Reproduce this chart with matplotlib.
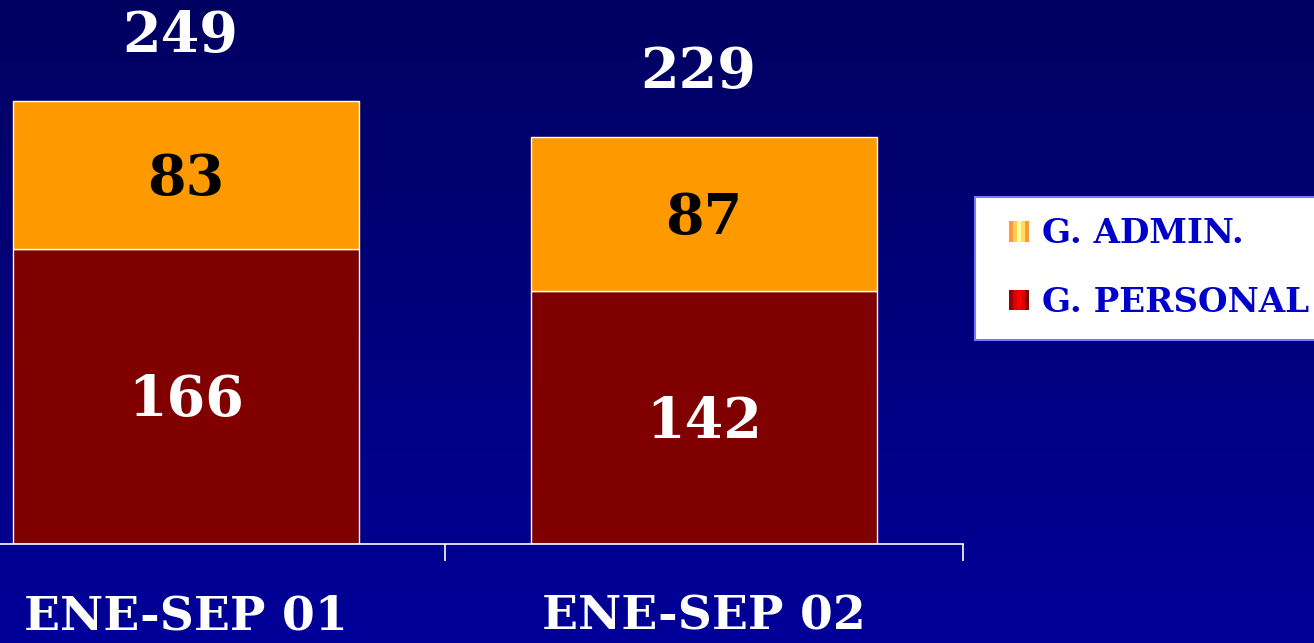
import matplotlib
matplotlib.use("Agg")
import matplotlib.pyplot as plt
import numpy as np
from matplotlib.patches import Patch, Rectangle
from matplotlib.legend_handler import HandlerBase

periods = ["ENE-SEP 01", "ENE-SEP 02"]
personal = [166, 142]
admin = [83, 87]
totals = [249, 229]


class StripeHandler(HandlerBase):
    # legend key drawn as vertical stripes, like the shaded swatches
    def __init__(self, colors):
        super().__init__()
        self.colors = colors

    def create_artists(self, legend, orig_handle, xdescent, ydescent, width, height, fontsize, trans):
        n = len(self.colors)
        sw = 0.6 * fontsize
        x0 = -xdescent + width - sw
        y0 = -ydescent + (height - sw) / 2
        out = []
        for k, c in enumerate(self.colors):
            r = Rectangle((x0 + k * sw / n, y0), sw / n, sw,
                          facecolor=c, edgecolor="none", transform=trans)
            out.append(r)
        return out


W, H = 1314, 643
fig = plt.figure(figsize=(W / 100, H / 100), dpi=100)

# background gradient, darker at the top
bg = fig.add_axes([0, 0, 1, 1], zorder=0)
grad = np.linspace(0, 1, 256).reshape(-1, 1)
top = np.array([0, 0, 0x60]) / 255
bot = np.array([0, 0, 0x99]) / 255
img = top + (bot - top) * grad[..., None]
bg.imshow(img, aspect="auto", extent=[0, 1, 0, 1], origin="upper")
bg.axis("off")

serif = "DejaVu Serif"
ax = fig.add_axes([-73 / W, 99 / H, 1036 / W, 544 / H], zorder=1)
ax.patch.set_alpha(0)
x = np.arange(len(periods))
w = 0.668
ax.bar(x, personal, w, color="#800000", edgecolor="white", linewidth=1)
ax.bar(x, admin, w, bottom=personal, color="#ff9900", edgecolor="white", linewidth=1)
ax.set_xlim(-0.5, 1.5)
ax.set_ylim(0, 544 / 1.779)

for i in x:
    ax.text(i, personal[i] / 2 - 2.5, str(personal[i]), ha="center", va="center",
            color="white", fontsize=40, fontweight="bold", family=serif)
    ax.text(i, personal[i] + admin[i] / 2 - 2.5, str(admin[i]), ha="center", va="center",
            color="black", fontsize=40, fontweight="bold", family=serif)
    ax.text(i - 0.012, totals[i] + 36, str(totals[i]), ha="center", va="center",
            color="white", fontsize=40, fontweight="bold", family=serif)

for s in ["top", "right", "left"]:
    ax.spines[s].set_visible(False)
ax.spines["bottom"].set_color("white")
ax.spines["bottom"].set_linewidth(1.2)
ax.set_yticks([])
ax.set_xticks([0.5, 1.5])
ax.set_xticklabels([])
ax.tick_params(axis="x", colors="white", length=12, width=1.2, direction="out")
for i, p in enumerate(periods):
    ax.text(i, -41, p, ha="center", va="center", color="white",
            fontsize=34, fontweight="bold", family=serif)

h_admin = Patch(label="G. ADMIN.")
h_pers = Patch(label="G. PERSONAL")
leg = fig.legend(handles=[h_admin, h_pers], loc="upper left",
                 bbox_to_anchor=(975 / W, 1 - 197 / H), borderaxespad=0,
                 handler_map={h_admin: StripeHandler(["#ff9933", "#ffcc55", "#ffff99", "#ffdd66", "#ff9933"]),
                              h_pers: StripeHandler(["#990000", "#dd0000", "#ff0000", "#dd0000", "#880000"])},
                 frameon=True, fancybox=False, handlelength=1.0, handleheight=0.6,
                 handletextpad=0.36, labelspacing=1.05, borderpad=0.6,
                 prop={"family": serif, "weight": "bold", "size": 24.5})
leg.get_frame().set_facecolor("white")
leg.get_frame().set_edgecolor("#7777ff")
leg.get_frame().set_linewidth(1.5)
leg.get_frame().set_alpha(1)
for t in leg.get_texts():
    t.set_color("#0000cc")

fig.savefig("out.png", dpi=100)
